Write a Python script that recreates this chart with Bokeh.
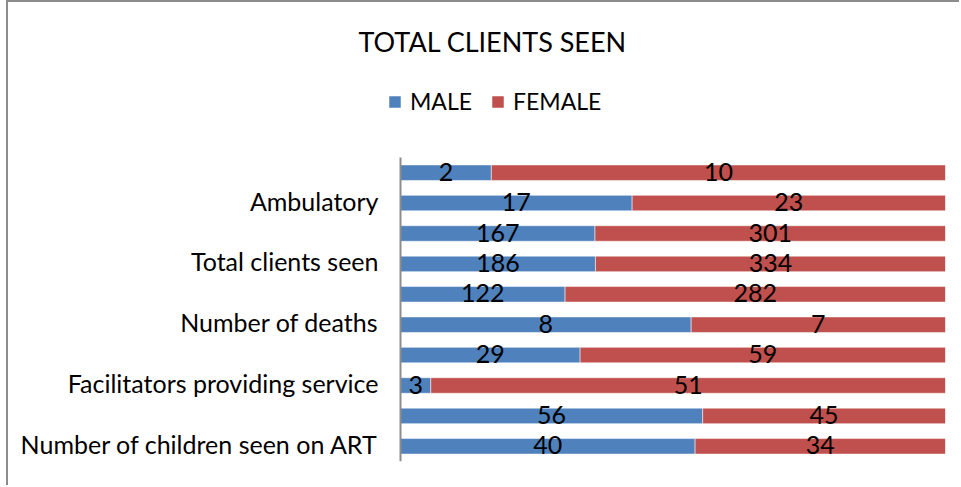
from bokeh.plotting import figure
from bokeh.models import Range1d, FixedTicker, Legend, LegendItem, ColumnDataSource
from bokeh.core.properties import value
from bokeh.embed import file_html
from bokeh.resources import INLINE

# ---- data (top to bottom) ----
categories = ["", "Ambulatory", "", "Total clients seen", "", "Number of deaths", "",
              "Facilitators providing service", "", "Number of children seen on ART"]
male = [2, 17, 167, 186, 122, 8, 29, 3, 56, 40]
female = [10, 23, 301, 334, 282, 7, 59, 51, 45, 34]
title_text = "TOTAL CLIENTS SEEN"
series_names = ["MALE", "FEMALE"]

BLUE = "#4F81BD"
RED = "#C0504D"
GRAY = "#8c8c8c"
FONT = "Lato"

n = len(categories)
pos = list(range(1, n + 1))
mshare = [m / (m + f) for m, f in zip(male, female)]
src = ColumnDataSource(dict(
    y=pos,
    zero=[0] * n,
    mshare=mshare,
    one=[1] * n,
    mmid=[s / 2 for s in mshare],
    fmid=[(s + 1) / 2 for s in mshare],
    mlab=[str(v) for v in male],
    flab=[str(v) for v in female],
))

# layout (pixels): one category = 30.4 px, 100% = 545 px
PX_CAT = 30.4
PX_FULL = 545
LEFT_PAD = 15        # frame starts a bit left of the value axis (room for legend)
FRAME_H = 386
LABEL_NUDGE = 0.08   # lift category labels slightly to sit on bar centres
p = figure(width=953, height=485,
           x_range=Range1d(-LEFT_PAD / PX_FULL, 1),
           y_range=Range1d(n + 0.5, n + 0.5 - FRAME_H / PX_CAT),
           output_backend="svg", toolbar_location=None,
           min_border_left=377, min_border_right=16, min_border_top=73, min_border_bottom=26,
           margin=(2, 0, 0, 8))
# chart-area frame line on the left and top only
p.styles = {"box-shadow": "-2px -2px 0 0 #8c8c8c"}
p.outline_line_color = None
p.xgrid.visible = False
p.ygrid.visible = False
p.xaxis.visible = False
p.background_fill_color = "white"
p.border_fill_color = "white"

p.title.text = title_text
p.title.align = "left"
p.title.offset = -27
p.title.standoff = 35
p.title.text_font = FONT
p.title.text_font_size = "27px"
p.title.text_font_style = "normal"
p.title.text_color = "black"

rm = p.hbar(y="y", left="zero", right="mshare", height=0.51, source=src,
            fill_color=BLUE, line_color="white", line_alpha=0.5, line_width=1)
rf = p.hbar(y="y", left="mshare", right="one", height=0.51, source=src,
            fill_color=RED, line_color="white", line_alpha=0.5, line_width=1)

# category axis line
p.segment(x0=[0], y0=[0.5], x1=[0], y1=[n + 0.5], line_color=GRAY, line_width=2)

for xcol, tcol in (("mmid", "mlab"), ("fmid", "flab")):
    p.text(x=xcol, y="y", text=tcol, source=src, text_align="center",
           text_baseline="middle", y_offset=-1, text_font=value(FONT),
           text_font_size="25px", text_color="black")

ticks = [i - LABEL_NUDGE for i, c in zip(pos, categories) if c]
ax = p.yaxis[0]
ax.ticker = FixedTicker(ticks=ticks)
ax.major_label_overrides = {t: c for t, c in zip(ticks, [c for c in categories if c])}
ax.axis_line_color = None
ax.major_tick_line_color = None
ax.minor_tick_line_color = None
ax.major_label_standoff = 1
ax.major_label_text_font = FONT
ax.major_label_text_font_size = "25px"
ax.major_label_text_color = "black"

legend = Legend(items=[LegendItem(label=series_names[0], renderers=[rm]),
                       LegendItem(label=series_names[1], renderers=[rf])],
                orientation="horizontal", location=(2, 346),
                glyph_width=15, glyph_height=15, label_standoff=8, spacing=18,
                padding=0, margin=0, border_line_color=None, background_fill_alpha=0,
                label_text_font=FONT, label_text_font_size="23px", label_text_color="black")
p.add_layout(legend, "center")

open("out.html", "w").write(file_html(p, INLINE))
